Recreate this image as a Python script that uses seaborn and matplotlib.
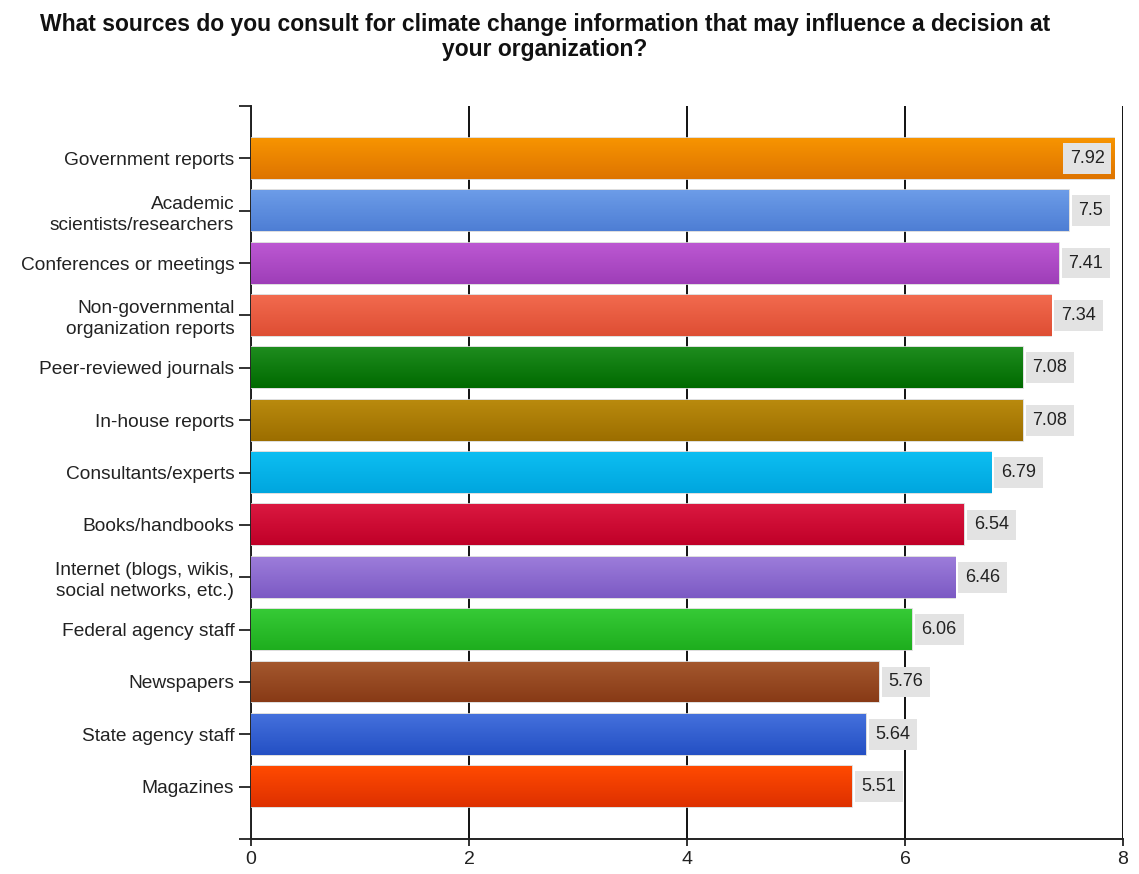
import numpy as np
import pandas as pd
import matplotlib
matplotlib.use("Agg")
import matplotlib.pyplot as plt
import seaborn as sns
from matplotlib.colors import to_rgb, LinearSegmentedColormap

categories = [
    "Government reports",
    "Academic\nscientists/researchers",
    "Conferences or meetings",
    "Non-governmental\norganization reports",
    "Peer-reviewed journals",
    "In-house reports",
    "Consultants/experts",
    "Books/handbooks",
    "Internet (blogs, wikis,\nsocial networks, etc.)",
    "Federal agency staff",
    "Newspapers",
    "State agency staff",
    "Magazines",
]
values = [7.92, 7.5, 7.41, 7.34, 7.08, 7.08, 6.79, 6.54, 6.46, 6.06, 5.76, 5.64, 5.51]
value_labels = ["7.92", "7.5", "7.41", "7.34", "7.08", "7.08", "6.79", "6.54", "6.46", "6.06", "5.76", "5.64", "5.51"]
top_colors = ["#F79400", "#6C9CE8", "#BC58D2", "#F26A4E", "#1E8C1E", "#B98A0E", "#0DBEF2",
              "#DA1840", "#9C7CDA", "#36CA36", "#A4582E", "#4470DC", "#FF4A00"]
bottom_colors = ["#DE7400", "#4E7ED4", "#9E3EB8", "#DE4E34", "#006A00", "#9C6E00", "#00A6DE",
                 "#C00028", "#7C5AC4", "#1EAE1E", "#883A16", "#2450C4", "#DE3000"]
x_ticks = [0, 2, 4, 6, 8]

sns.set_theme(style="white")
plt.rcParams["font.family"] = ["Liberation Sans", "DejaVu Sans"]

df = pd.DataFrame({"source": categories, "value": values})

fig = plt.figure(figsize=(11.39, 8.74), dpi=100)
ax = fig.add_axes([0.2204, 0.04, 0.7656, 0.8387])

sns.barplot(data=df, x="value", y="source", hue="source", palette=top_colors,
            legend=False, width=0.78, ax=ax, zorder=3,
            edgecolor="#D8D8D8", linewidth=1.2)

# gradient fill for each bar
for i, p in enumerate(ax.patches):
    x0, y0 = p.get_x(), p.get_y()
    w, h = p.get_width(), p.get_height()
    cmap = LinearSegmentedColormap.from_list("g", [to_rgb(top_colors[i]), to_rgb(bottom_colors[i])])
    grad = np.linspace(0, 1, 64).reshape(-1, 1)
    im = ax.imshow(grad, cmap=cmap, aspect="auto", extent=(x0, x0 + w, y0 + h, y0),
                   zorder=3.5, interpolation="bicubic")
    im.set_clip_path(p)

ax.set_xlim(0, 8)
ax.set_ylim(len(categories), -1)

# value labels
for i, (v, lab) in enumerate(zip(values, value_labels)):
    if v > 7.8:
        ax.text(v - 0.09, i, lab, ha="right", va="center", fontsize=13, color="#222222", zorder=5,
                bbox=dict(boxstyle="square,pad=0.38", facecolor="#E3E3E3", edgecolor="none"))
    else:
        ax.text(v + 0.09, i, lab, ha="left", va="center", fontsize=13, color="#222222", zorder=5,
                bbox=dict(boxstyle="square,pad=0.38", facecolor="#E3E3E3", edgecolor="none"))

ax.set_xticks(x_ticks)
ax.set_xticklabels([str(t) for t in x_ticks], fontsize=14, color="#222222")
ax.set_yticks(range(len(categories)))
ax.set_yticklabels(categories, fontsize=13.8, color="#222222", linespacing=1.3)
ax.tick_params(axis="y", length=9, width=1.3, color="#222222", left=True, pad=3)
ax.tick_params(axis="x", length=5, width=1.3, color="#222222", bottom=True)
ax.set_yticks([-1, len(categories)], minor=True)
ax.tick_params(axis="y", which="minor", length=9, width=1.3, color="#222222", left=True)

ax.xaxis.grid(True, color="#111111", linewidth=1.4, zorder=0)
ax.yaxis.grid(False)
ax.set_axisbelow(True)
for s in ["top", "right"]:
    ax.spines[s].set_visible(False)
for s in ["left", "bottom"]:
    ax.spines[s].set_color("#222222")
    ax.spines[s].set_linewidth(1.4)
ax.set_xlabel("")
ax.set_ylabel("")

fig.text(0.4785, 0.985, "What sources do you consult for climate change information that may influence a decision at\nyour organization?",
         ha="center", va="top", fontsize=16.5, fontweight="bold", color="#111111", linespacing=1.1)

fig.savefig("out.png", dpi=100)
